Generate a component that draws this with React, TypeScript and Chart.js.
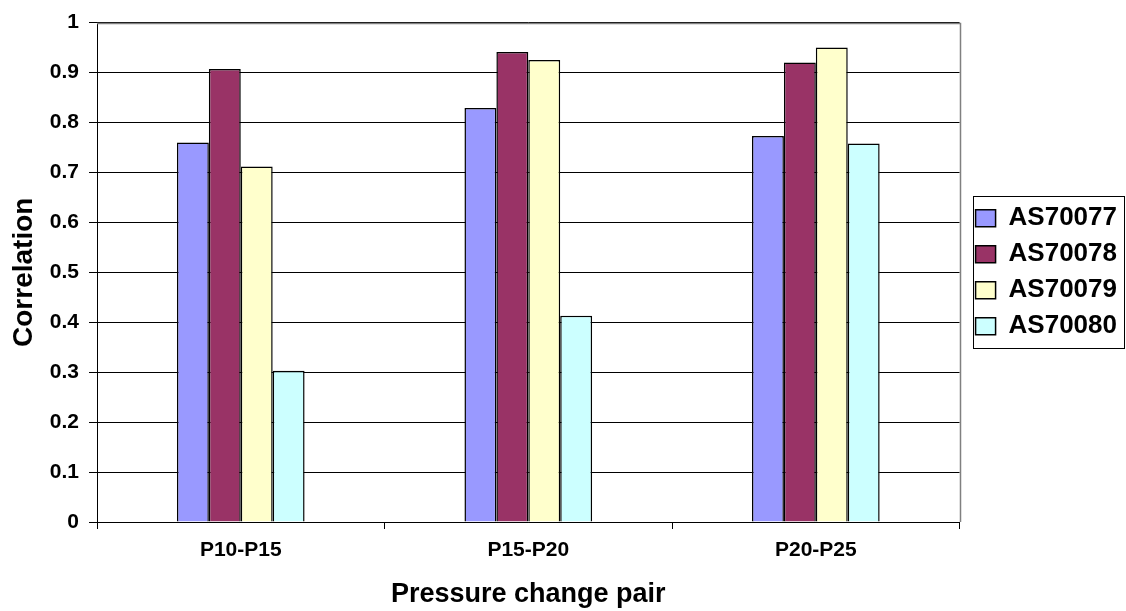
import React, { useEffect, useRef } from "react";
import { Chart, registerables } from "chart.js";

Chart.register(...registerables);

const categories = ["P10-P15", "P15-P20", "P20-P25"];
const seriesNames = ["AS70077", "AS70078", "AS70079", "AS70080"];
const as70077 = [0.76, 0.829, 0.773];
const as70078 = [0.907, 0.941, 0.92];
const as70079 = [0.712, 0.925, 0.95];
const as70080 = [0.303, 0.413, 0.758];
const yTickLabels = ["0", "0.1", "0.2", "0.3", "0.4", "0.5", "0.6", "0.7", "0.8", "0.9", "1"];
const seriesColors = ["#9999FF", "#993366", "#FFFFCC", "#CCFFFF"];
const xTitle = "Pressure change pair";
const yTitle = "Correlation";

const FONT = "'Liberation Sans', Arial, sans-serif";

const framePlugin = {
  id: "frame",
  afterLayout(chart: any) {
    const lg = chart.legend;
    if (lg) {
      lg.left += 6;
      lg.right += 6;
    }
  },
  afterDraw(chart: any) {
    const { ctx, chartArea: a } = chart;
    ctx.save();
    ctx.strokeStyle = "#808080";
    ctx.lineWidth = 1.5;
    ctx.beginPath();
    ctx.moveTo(a.left, Math.round(a.top) + 0.5);
    ctx.lineTo(Math.round(a.right) + 0.5, Math.round(a.top) + 0.5);
    ctx.lineTo(Math.round(a.right) + 0.5, a.bottom);
    ctx.stroke();
    const lg = chart.legend;
    if (lg && lg.legendHitBoxes && lg.legendHitBoxes.length) {
      const hb = lg.legendHitBoxes;
      const l = Math.min(...hb.map((h: any) => h.left)) - 3;
      const r = Math.max(...hb.map((h: any) => h.left + h.width)) + 7;
      const t = Math.min(...hb.map((h: any) => h.top)) - 9;
      const b = Math.max(...hb.map((h: any) => h.top + h.height)) + 9;
      ctx.strokeStyle = "#000";
      ctx.lineWidth = 1;
      ctx.strokeRect(Math.round(l) + 0.5, Math.round(t) + 0.5, Math.round(r - l), Math.round(b - t));
    }
    ctx.restore();
  },
};

export default function App() {
  const ref = useRef<HTMLCanvasElement | null>(null);

  useEffect(() => {
    if (!ref.current) return;
    const seriesData = [as70077, as70078, as70079, as70080];
    const chart = new Chart(ref.current, {
      type: "bar",
      data: {
        labels: categories,
        datasets: seriesNames.map((name, i) => ({
          label: name,
          data: seriesData[i],
          backgroundColor: seriesColors[i],
          borderColor: "#000000",
          borderWidth: 1.5,
          categoryPercentage: 0.444,
          barPercentage: 1,
        })),
      },
      options: {
        responsive: false,
        animation: false,
        layout: { padding: { top: 22, right: 5, left: 0, bottom: 0 } },
        plugins: {
          tooltip: { enabled: false },
          title: { display: false },
          legend: {
            position: "right",
            fullSize: false,
            labels: {
              color: "#000",
              boxWidth: 20,
              boxHeight: 17,
              padding: 10,
              font: { family: FONT, size: 26, weight: "bold" },
            },
          },
        },
        scales: {
          x: {
            afterFit: (s: any) => {
              s.height = 89;
            },
            grid: {
              display: true,
              drawOnChartArea: false,
              drawTicks: true,
              tickLength: 7,
              color: "#000",
              offset: true,
            },
            border: { color: "#000", width: 1 },
            ticks: {
              color: "#000",
              padding: 9,
              font: { family: FONT, size: 21, weight: "bold" },
            },
            title: {
              display: true,
              text: xTitle,
              color: "#000",
              padding: { top: 0, bottom: 0 },
              font: { family: FONT, size: 27, weight: "bold" },
            },
          },
          y: {
            min: 0,
            max: 1,
            afterFit: (s: any) => {
              s.width = 97;
            },
            grid: {
              color: "#000",
              lineWidth: 1,
              drawTicks: true,
              tickLength: 8,
            },
            border: { color: "#000", width: 1 },
            ticks: {
              stepSize: 0.1,
              color: "#000",
              padding: 10,
              font: { family: FONT, size: 21, weight: "bold" },
              callback: (_v: any, idx: number) => yTickLabels[idx],
            },
            title: {
              display: true,
              text: yTitle,
              color: "#000",
              padding: { top: 7, bottom: 0 },
              font: { family: FONT, size: 28, weight: "bold" },
            },
          },
        },
      },
      plugins: [framePlugin],
    } as any);
    return () => chart.destroy();
  }, []);

  return (
    <div style={{ position: "fixed", left: 0, top: 0, width: 1126, height: 611, background: "#fff" }}>
      <canvas ref={ref} width={1126} height={611} />
    </div>
  );
}
